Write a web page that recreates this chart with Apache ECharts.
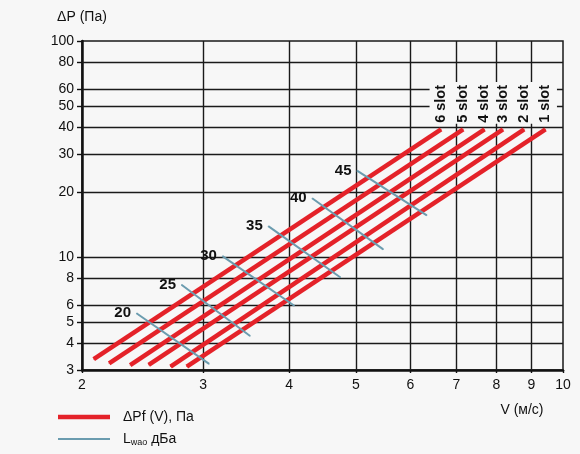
<!DOCTYPE html>
<html>
<head>
<meta charset="utf-8">
<script src="https://cdn.jsdelivr.net/npm/echarts@6/dist/echarts.min.js"></script>
<style>
  html, body { margin: 0; padding: 0; background: #f7f7f7; }
  #container { width: 580px; height: 454px; }
</style>
</head>
<body>
<div id="container"></div>
<script>
// red lines: ΔPf(V) for 1..6 slots (start/end points)
var slotNames = ['1 slot', '2 slot', '3 slot', '4 slot', '5 slot', '6 slot'];
var slotVStart = [2.84, 2.69, 2.50, 2.35, 2.19, 2.08];
var slotPStart = [3.11, 3.11, 3.17, 3.16, 3.22, 3.37];
var slotVEnd = [9.43, 8.78, 8.18, 7.69, 7.16, 6.65];
var slotPEnd = [39, 39, 39, 39, 39, 39];

// blue lines: Lwao, dBA
var noiseLevels = ['20', '25', '30', '35', '40', '45'];
var noiseVStart = [2.40, 2.79, 3.20, 3.73, 4.32, 5.02];
var noisePStart = [5.49, 7.44, 10.1, 13.9, 18.7, 25.1];
var noiseVEnd = [3.06, 3.51, 4.07, 4.75, 5.48, 6.34];
var noisePEnd = [3.20, 4.31, 5.95, 8.04, 10.85, 15.6];

// axis ticks / grid
var xTicks = [2, 3, 4, 5, 6, 7, 8, 9, 10];
var yTicks = [3, 4, 5, 6, 8, 10, 20, 30, 40, 50, 60, 80, 100];
var xGrid = [3, 4, 5, 6, 7, 8, 9];
var yGrid = [4, 5, 6, 8, 10, 20, 30, 40, 50, 60, 80];

var redName = 'ΔPf (V), Па';
var blueName = 'Lwao дБа';
var red = '#e42229';
var blue = '#6b9caf';
var bg = '#f7f7f7';
var font = '"Liberation Sans", Arial, sans-serif';

var series = [];

// grid lines
series.push({
    type: 'line',
    data: [],
    silent: true,
    markLine: {
        silent: true,
        z: 1,
        symbol: ['none', 'none'],
        label: { show: false },
        lineStyle: { color: '#1a1a1a', width: 1.4, type: 'solid' },
        emphasis: { disabled: true },
        data: xGrid.map(function (v) { return { xAxis: v }; })
            .concat(yGrid.map(function (v) { return { yAxis: v }; }))
    }
});

for (var i = 0; i < slotNames.length; i++) {
    series.push({
        type: 'line',
        name: redName,
        z: 3,
        symbol: 'circle',
        symbolSize: 1,
        itemStyle: { color: red },
        lineStyle: { color: red, width: 4.6 },
        data: [
            [slotVStart[i], slotPStart[i]],
            {
                value: [slotVEnd[i], slotPEnd[i]],
                label: {
                    show: true,
                    formatter: slotNames[i],
                    position: 'top',
                    distance: 5,
                    rotate: 90,
                    align: 'left',
                    verticalAlign: 'middle',
                    color: '#111',
                    fontFamily: font,
                    fontWeight: 'bold',
                    fontSize: 14.5,
                    backgroundColor: bg,
                    padding: [4, 3, 4, 1]
                }
            }
        ]
    });
}

for (var j = 0; j < noiseLevels.length; j++) {
    series.push({
        type: 'line',
        name: blueName,
        z: 4,
        symbol: 'circle',
        symbolSize: 1,
        itemStyle: { color: blue },
        lineStyle: { color: blue, width: 2 },
        data: [
            {
                value: [noiseVStart[j], noisePStart[j]],
                label: {
                    show: true,
                    formatter: noiseLevels[j],
                    position: 'left',
                    distance: 5,
                    color: '#111',
                    fontFamily: font,
                    fontWeight: 'bold',
                    fontSize: 15
                }
            },
            [noiseVEnd[j], noisePEnd[j]]
        ]
    });
}

var option = {
    backgroundColor: bg,
    animation: false,
    grid: {
        left: 82,
        right: 17,
        top: 41,
        bottom: 84,
        show: true,
        borderColor: '#1a1a1a',
        borderWidth: 1.5,
        backgroundColor: bg
    },
    legend: {
        orient: 'vertical',
        left: 58,
        top: 410,
        padding: 0,
        itemWidth: 52,
        itemHeight: 14,
        itemGap: 8,
        selectedMode: false,
        data: [
            { name: redName, icon: 'path://M0,0 L52,0 L52,4.5 L0,4.5 Z', itemStyle: { color: red } },
            { name: blueName, icon: 'path://M0,0 L52,0 L52,2 L0,2 Z', itemStyle: { color: blue } }
        ],
        formatter: function (name) {
            if (name === blueName) {
                return '{a|L}{sub|wao}{a| дБа}';
            }
            return '{a|' + name + '}';
        },
        textStyle: {
            padding: [0, 0, 0, 8],
            rich: {
                a: { fontFamily: font, fontSize: 14, color: '#111' },
                sub: { fontFamily: font, fontSize: 9, color: '#111', padding: [7, 0, 0, 0] }
            }
        }
    },
    xAxis: {
        type: 'log',
        logBase: 10,
        min: 2,
        max: 10,
        name: 'V (м/с)',
        nameLocation: 'end',
        nameGap: -41,
        nameTextStyle: {
            align: 'center',
            verticalAlign: 'top',
            padding: [33, 0, 0, 0],
            fontFamily: font,
            fontSize: 14,
            color: '#111'
        },
        axisLine: { lineStyle: { color: '#111', width: 2.5 } },
        axisTick: { show: true, length: 3, customValues: xTicks, lineStyle: { color: '#111', width: 1.4 } },
        axisLabel: { customValues: xTicks, margin: 8, fontFamily: font, fontSize: 14, color: '#111' },
        splitLine: { show: false },
        minorTick: { show: false },
        minorSplitLine: { show: false }
    },
    yAxis: {
        type: 'log',
        logBase: 10,
        min: 3,
        max: 100,
        name: 'ΔP (Па)',
        nameLocation: 'end',
        nameGap: 17,
        nameTextStyle: { fontFamily: font, fontSize: 14, color: '#111', align: 'center' },
        axisLine: { lineStyle: { color: '#111', width: 2.5 } },
        axisTick: { show: true, length: 5, customValues: yTicks, lineStyle: { color: '#111', width: 1.4 } },
        axisLabel: { customValues: yTicks, margin: 8, fontFamily: font, fontSize: 14, color: '#111' },
        splitLine: { show: false },
        minorTick: { show: false },
        minorSplitLine: { show: false }
    },
    series: series
};

var myChart = echarts.init(document.getElementById('container'));
myChart.setOption(option);
</script>
</body>
</html>
